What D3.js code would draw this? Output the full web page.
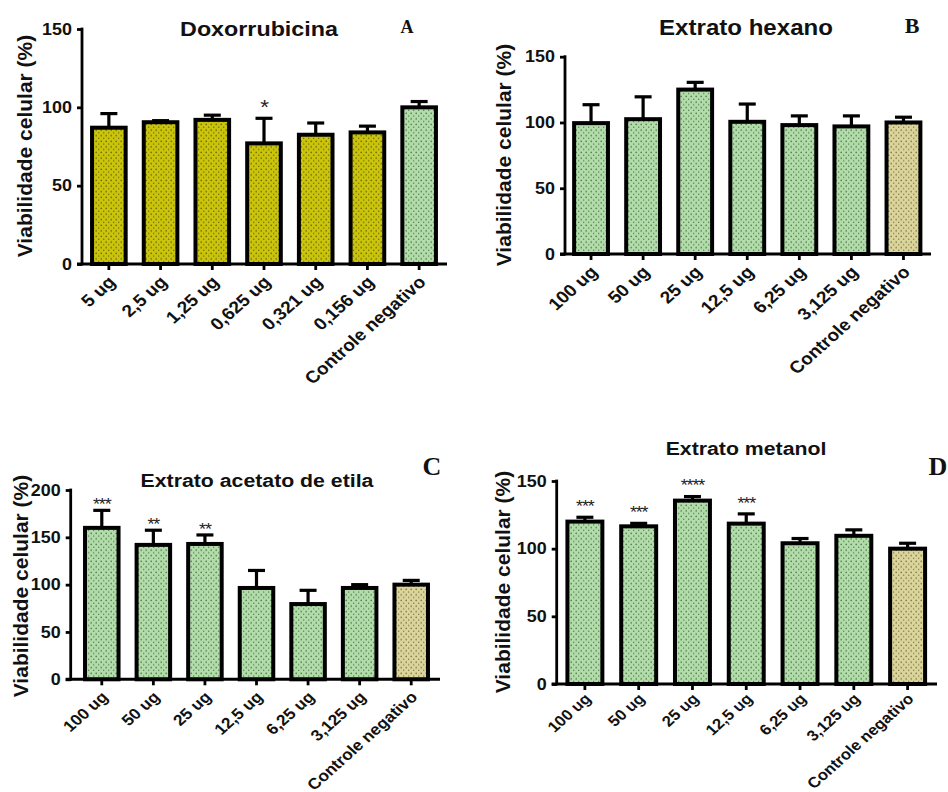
<!DOCTYPE html>
<html>
<head>
<meta charset="utf-8">
<script src="https://cdn.jsdelivr.net/npm/d3@7"></script>
<style>
  html, body { margin: 0; background: #ffffff; }
  svg { display: block; }
</style>
</head>
<body>
<script>
// ---- Data: cell viability (%) per treatment, mean and upper error ----
const doxCategories = ["5 ug", "2,5 ug", "1,25 ug", "0,625 ug", "0,321 ug", "0,156 ug", "Controle negativo"];
const extractCategories = ["100 ug", "50 ug", "25 ug", "12,5 ug", "6,25 ug", "3,125 ug", "Controle negativo"];

const doxMeans   = [87, 90.5, 92, 77, 82.5, 84, 100];
const doxErrors  = [9, 1, 3, 16, 7.5, 4, 3.7];
const doxStars   = ["", "", "", "*", "", "", ""];

const hexMeans   = [99.5, 102.5, 125, 100.5, 98, 97, 100];
const hexErrors  = [14, 17, 5.5, 13.5, 7, 8, 4];
const hexStars   = ["", "", "", "", "", "", ""];

const acetMeans  = [160, 142, 143, 96.5, 79.5, 96.5, 100];
const acetErrors = [18.5, 15.5, 9.5, 18.5, 14.5, 3.5, 4.5];
const acetStars  = ["***", "**", "**", "", "", "", ""];

const metMeans   = [120, 116.5, 135.5, 118.5, 104, 109.5, 100];
const metErrors  = [3.2, 2.2, 3, 7.2, 3.5, 4.4, 4];
const metStars   = ["***", "***", "****", "***", "", "", ""];

const ticks150 = [0, 50, 100, 150];
const ticks200 = [0, 50, 100, 150, 200];

const yTitle = "Viabilidade celular (%)";

// ---- Drawing ----
const W = 948, H = 792;
const svg = d3.select("body").append("svg").attr("width", W).attr("height", H);
const defs = svg.append("defs");

// Stippled fills
function dotPattern(id, base, dot) {
  const p = defs.append("pattern").attr("id", id)
    .attr("patternUnits", "userSpaceOnUse").attr("width", 5).attr("height", 5.6);
  p.append("rect").attr("width", 5).attr("height", 5.6).attr("fill", base);
  p.append("circle").attr("cx", 1.2).attr("cy", 1.2).attr("r", 0.8).attr("fill", dot);
  p.append("circle").attr("cx", 3.7).attr("cy", 4.0).attr("r", 0.7).attr("fill", dot);
  return `url(#${id})`;
}
const OLIVE = dotPattern("olive", "#cac40c", "#666300");
const GREEN = dotPattern("green", "#b3dcab", "#4a7445");
const TAN   = dotPattern("tan",   "#dbd59c", "#756f3e");

const FONT = "'Liberation Sans', Arial, Helvetica, sans-serif";
const SERIF = "'Liberation Serif', 'Times New Roman', serif";
const SX = 1.12; // horizontal stretch used for all upright text

const panels = [
  { letter: "A", title: "Doxorrubicina", cats: doxCategories, means: doxMeans, errs: doxErrors, stars: doxStars,
    fills: [OLIVE, OLIVE, OLIVE, OLIVE, OLIVE, OLIVE, GREEN], ticks: ticks150,
    axisX: 82, xRange: [83, 445], xEnd: 447, yRange: [264, 29],
    titleX: 259, titleY: 36, titleSize: 20.8, letterX: 407, letterY: 33, letterSize: 18,
    yTitleX: 32, yTitleY: 146, starGap: 15, starSize: 20, labelSize: 17, labelDy: 15 },
  { letter: "B", title: "Extrato hexano", cats: extractCategories, means: hexMeans, errs: hexErrors, stars: hexStars,
    fills: [GREEN, GREEN, GREEN, GREEN, GREEN, GREEN, TAN], ticks: ticks150,
    axisX: 565, xRange: [565, 929.5], xEnd: 931, yRange: [254, 56.7],
    titleX: 746, titleY: 35, titleSize: 21.5, letterX: 912, letterY: 33, letterSize: 22,
    yTitleX: 511, yTitleY: 155, starGap: 12, starSize: 16, labelSize: 17, labelDy: 15 },
  { letter: "C", title: "Extrato acetato de etila", cats: extractCategories, means: acetMeans, errs: acetErrors, stars: acetStars,
    fills: [GREEN, GREEN, GREEN, GREEN, GREEN, GREEN, TAN], ticks: ticks200,
    axisX: 70.7, xRange: [76, 437], xEnd: 440, yRange: [679.3, 490],
    titleX: 257, titleY: 487, titleSize: 19, letterX: 432, letterY: 475, letterSize: 26,
    yTitleX: 28, yTitleY: 586, starGap: 9, starSize: 16, labelSize: 15.5, labelDy: 15 },
  { letter: "D", title: "Extrato metanol", cats: extractCategories, means: metMeans, errs: metErrors, stars: metStars,
    fills: [GREEN, GREEN, GREEN, GREEN, GREEN, GREEN, TAN], ticks: ticks150,
    axisX: 556.7, xRange: [558, 934.5], xEnd: 937, yRange: [684, 481],
    titleX: 746, titleY: 455, titleSize: 19, letterX: 938, letterY: 475, letterSize: 26,
    yTitleX: 510, yTitleY: 582, starGap: 14, starSize: 16, labelSize: 15, labelDy: 12 }
];

panels.forEach(drawPanel);

function drawPanel(p) {
  const g = svg.append("g");
  const x = d3.scaleBand().domain(p.cats).range(p.xRange).paddingInner(0.35).paddingOuter(0.175);
  const y = d3.scaleLinear().domain([0, d3.max(p.ticks)]).range(p.yRange);
  const rows = p.cats.map((c, i) => ({ cat: c, mean: p.means[i], err: p.errs[i], star: p.stars[i], fill: p.fills[i] }));

  // y axis ticks and labels
  const yAxis = g.append("g").attr("transform", `translate(${p.axisX},0)`)
    .call(d3.axisLeft(y).tickValues(p.ticks).tickSize(5).tickPadding(4).tickSizeOuter(0));
  yAxis.select(".domain").remove();
  yAxis.selectAll(".tick line").attr("stroke", "#000").attr("stroke-width", 2.8);
  yAxis.selectAll(".tick text")
    .attr("fill", "#111").attr("font-family", FONT).attr("font-weight", "bold").attr("font-size", 16)
    .attr("transform", `scale(${SX},1)`);

  // x axis ticks and rotated labels
  const xAxis = g.append("g").attr("transform", `translate(0,${p.yRange[0]})`)
    .call(d3.axisBottom(x).tickSize(6).tickSizeOuter(0));
  xAxis.select(".domain").remove();
  xAxis.selectAll(".tick line").attr("stroke", "#000").attr("stroke-width", 2.8);
  xAxis.selectAll(".tick text")
    .attr("fill", "#111").attr("font-family", FONT).attr("font-weight", "bold").attr("font-size", p.labelSize)
    .attr("x", 0).attr("y", 0).attr("dy", "0.35em").attr("text-anchor", "end")
    .attr("transform", `translate(3,${p.labelDy}) scale(${SX},1) rotate(-45)`);

  // error bars (upper only)
  const bw = x.bandwidth();
  const cap = 17;
  const eb = g.append("g").attr("stroke", "#000").attr("stroke-width", 3.2);
  eb.selectAll("line.v").data(rows).join("line").attr("class", "v")
    .attr("x1", d => x(d.cat) + bw / 2).attr("x2", d => x(d.cat) + bw / 2)
    .attr("y1", d => y(d.mean)).attr("y2", d => y(d.mean + d.err));
  eb.selectAll("line.c").data(rows).join("line").attr("class", "c")
    .attr("x1", d => x(d.cat) + bw / 2 - cap / 2).attr("x2", d => x(d.cat) + bw / 2 + cap / 2)
    .attr("y1", d => y(d.mean + d.err)).attr("y2", d => y(d.mean + d.err));

  // bars
  g.append("g").selectAll("rect").data(rows).join("rect")
    .attr("x", d => x(d.cat)).attr("width", bw)
    .attr("y", d => y(d.mean)).attr("height", d => y(0) - y(d.mean))
    .attr("fill", d => d.fill).attr("stroke", "#000").attr("stroke-width", 4);

  // axis lines
  g.append("line").attr("x1", p.axisX).attr("x2", p.axisX)
    .attr("y1", y(d3.max(p.ticks)) - 1.4).attr("y2", y(0) + 1.4)
    .attr("stroke", "#000").attr("stroke-width", 2.8);
  g.append("line").attr("x1", p.axisX - 5).attr("x2", p.xEnd)
    .attr("y1", y(0)).attr("y2", y(0))
    .attr("stroke", "#000").attr("stroke-width", 3);

  // significance marks
  g.append("g").selectAll("text").data(rows.filter(d => d.star)).join("text")
    .attr("transform", d => `translate(${x(d.cat) + bw / 2},${y(d.mean + d.err) - p.starGap + p.starSize * 0.55}) scale(${SX},1)`)
    .attr("text-anchor", "middle").attr("font-family", FONT).attr("font-size", p.starSize)
    .attr("letter-spacing", "-1px").attr("fill", "#222").text(d => d.star);

  // y axis title
  g.append("text")
    .attr("transform", `translate(${p.yTitleX},${p.yTitleY}) rotate(-90)`)
    .attr("text-anchor", "middle").attr("font-family", FONT).attr("font-weight", "bold")
    .attr("font-size", 21).attr("fill", "#111").text(yTitle);

  // chart title
  g.append("text")
    .attr("transform", `translate(${p.titleX},${p.titleY}) scale(${SX},1)`)
    .attr("text-anchor", "middle").attr("font-family", FONT).attr("font-weight", "bold")
    .attr("font-size", p.titleSize).attr("fill", "#111").text(p.title);

  // panel letter
  g.append("text")
    .attr("x", p.letterX).attr("y", p.letterY)
    .attr("text-anchor", "middle").attr("font-family", SERIF).attr("font-weight", "bold")
    .attr("font-size", p.letterSize).attr("fill", "#111").text(p.letter);
}
</script>
</body>
</html>
